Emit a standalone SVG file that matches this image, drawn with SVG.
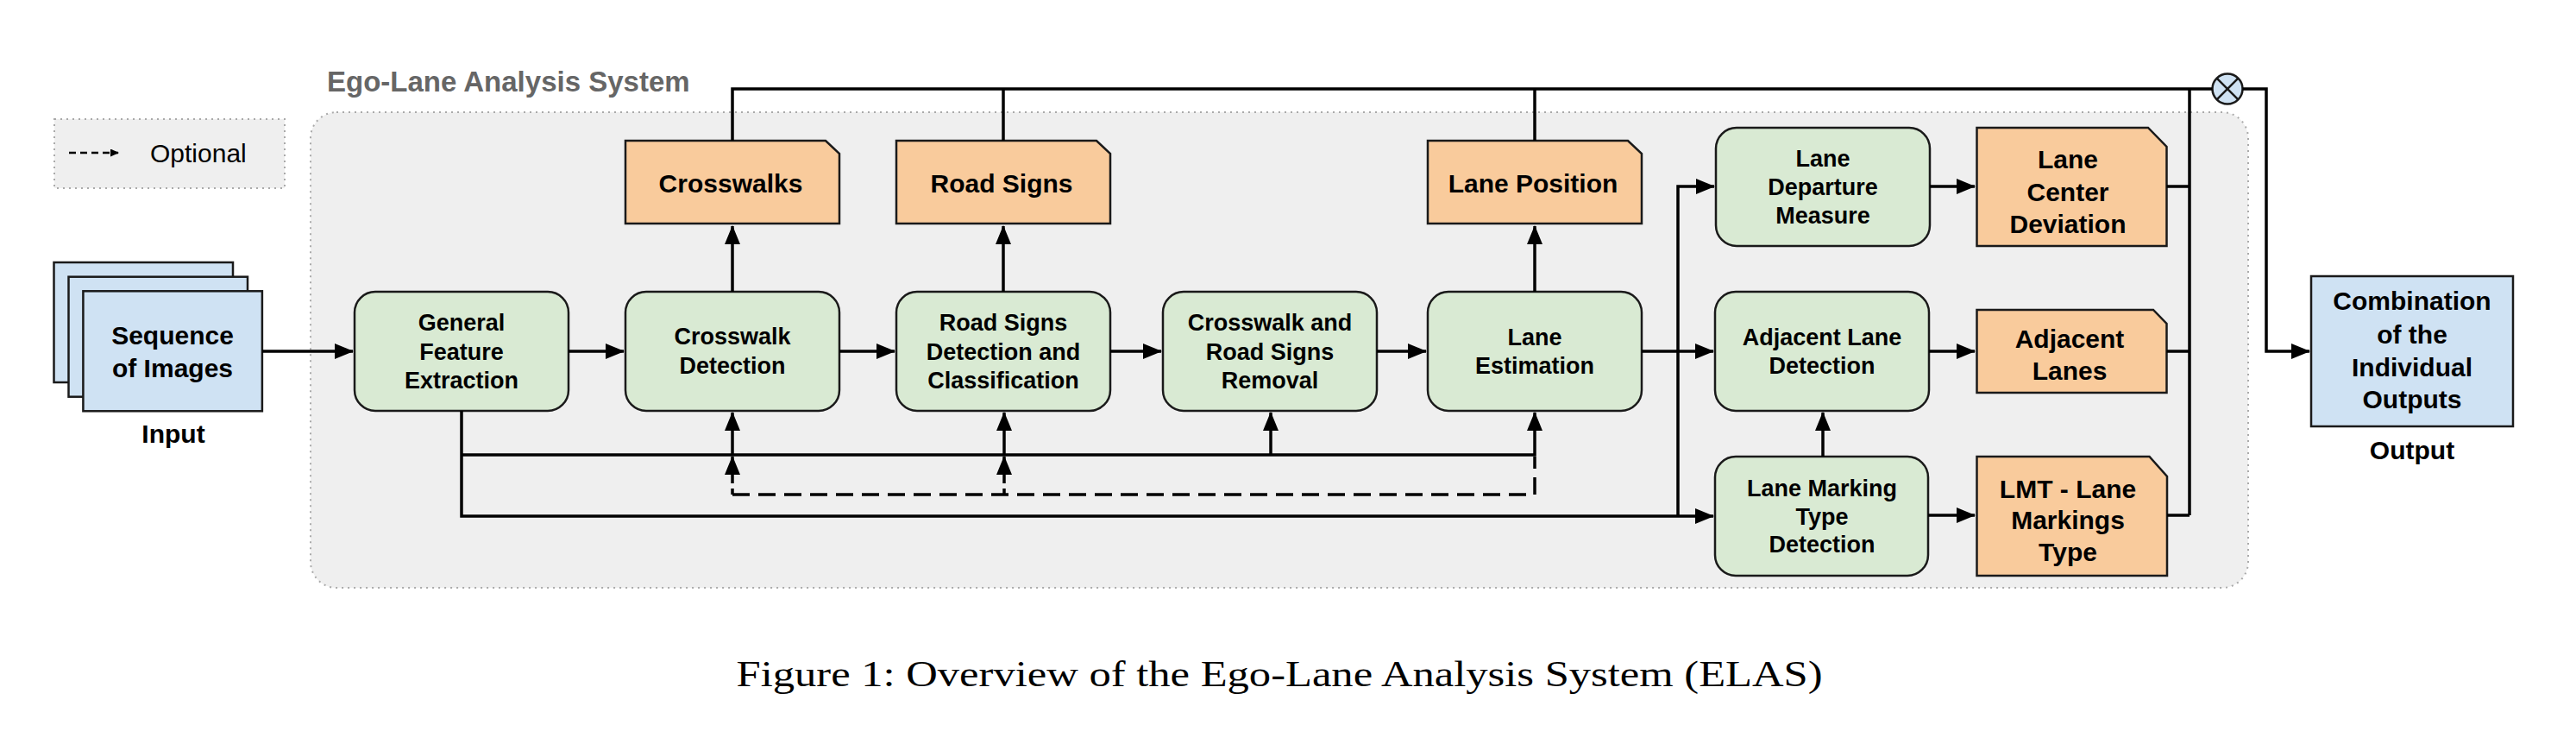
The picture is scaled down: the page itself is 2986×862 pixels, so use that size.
<svg xmlns="http://www.w3.org/2000/svg" width="2986" height="862" viewBox="0 0 2986 862">
<defs>
<style>
.lbl{font-family:"Liberation Sans",Arial,sans-serif;font-weight:bold;font-size:27px;fill:#000;text-anchor:middle}
.dl{font-family:"Liberation Sans",Arial,sans-serif;font-weight:bold;font-size:30px;fill:#000;text-anchor:middle}
.proc{fill:#d9ead3;stroke:#1a1a1a;stroke-width:2.5}
.doc{fill:#f9cb9c;stroke:#1a1a1a;stroke-width:2.5}
.io{fill:#cfe2f3;stroke:#1a1a1a;stroke-width:2.5}
.ln{fill:none;stroke:#000;stroke-width:3.5}
.arr{marker-end:url(#ah)}
.dash{stroke-dasharray:20 10}
</style>
<marker id="ah" markerUnits="userSpaceOnUse" markerWidth="22" markerHeight="18" refX="21" refY="9" orient="auto">
<path d="M0,0 L22,9 L0,18 z" fill="#000"/>
</marker>
<marker id="ahs" markerUnits="userSpaceOnUse" markerWidth="10" markerHeight="9" refX="9" refY="4.5" orient="auto">
<path d="M0,0 L10,4.5 L0,9 z" fill="#000"/>
</marker>
</defs>
<rect width="2986" height="862" fill="#fff"/>

<g id="system-group">
<rect x="360" y="130" width="2246" height="551" rx="30" fill="#efefef" stroke="#aaaaaa" stroke-width="2" stroke-dasharray="2 5"/>
<text x="379" y="106" font-family="Liberation Sans, Arial, sans-serif" font-weight="bold" font-size="33" fill="#666666">Ego-Lane Analysis System</text>
</g>

<g id="legend">
<rect x="63" y="138" width="267" height="80" fill="#efefef" stroke="#aaaaaa" stroke-width="2" stroke-dasharray="2 5"/>
<line x1="80" y1="177" x2="137" y2="177" stroke="#000" stroke-width="2.5" stroke-dasharray="8 5" marker-end="url(#ahs)"/>
<text x="174" y="188" font-family="Liberation Sans, Arial, sans-serif" font-size="30" fill="#000">Optional</text>
</g>

<g id="input">
<rect class="io" x="62.5" y="304" width="207.5" height="139"/>
<rect class="io" x="79.5" y="320.7" width="207.5" height="139"/>
<rect class="io" x="96.4" y="337.3" width="207.5" height="139"/>
<text class="dl" x="200" y="399">Sequence</text>
<text class="dl" x="200" y="437">of Images</text>
<text class="dl" x="201" y="513">Input</text>
</g>

<g id="gfe">
<rect class="proc" x="411" y="338" width="248" height="138" rx="24"/>
<text class="lbl" x="535" y="383">General</text>
<text class="lbl" x="535" y="416.7">Feature</text>
<text class="lbl" x="535" y="450">Extraction</text>
</g>

<g id="crosswalk-detection">
<rect class="proc" x="725" y="338" width="248" height="138" rx="24"/>
<text class="lbl" x="849" y="399.3">Crosswalk</text>
<text class="lbl" x="849" y="433.3">Detection</text>
</g>

<g id="road-signs-detection">
<rect class="proc" x="1039" y="338" width="248" height="138" rx="24"/>
<text class="lbl" x="1163" y="383">Road Signs</text>
<text class="lbl" x="1163" y="416.7">Detection and</text>
<text class="lbl" x="1163" y="450">Classification</text>
</g>

<g id="removal">
<rect class="proc" x="1348" y="338" width="248" height="138" rx="24"/>
<text class="lbl" x="1472" y="383">Crosswalk and</text>
<text class="lbl" x="1472" y="416.7">Road Signs</text>
<text class="lbl" x="1472" y="450">Removal</text>
</g>

<g id="lane-estimation">
<rect class="proc" x="1655" y="338" width="248" height="138" rx="24"/>
<text class="lbl" x="1779" y="400">Lane</text>
<text class="lbl" x="1779" y="433">Estimation</text>
</g>

<g id="lane-departure">
<rect class="proc" x="1989" y="148" width="248" height="137" rx="24"/>
<text class="lbl" x="2113" y="192.7">Lane</text>
<text class="lbl" x="2113" y="225.7">Departure</text>
<text class="lbl" x="2113" y="259.3">Measure</text>
</g>

<g id="adjacent-detection">
<rect class="proc" x="1988" y="338" width="248" height="138" rx="24"/>
<text class="lbl" x="2112" y="400">Adjacent Lane</text>
<text class="lbl" x="2112" y="433">Detection</text>
</g>

<g id="lmt-detection">
<rect class="proc" x="1988" y="529" width="247" height="138" rx="24"/>
<text class="lbl" x="2112" y="575">Lane Marking</text>
<text class="lbl" x="2112" y="608.3">Type</text>
<text class="lbl" x="2112" y="640">Detection</text>
</g>

<g id="crosswalks">
<path class="doc" d="M725,163 H957 L973,178 V259 H725 Z"/>
<text class="dl" x="847" y="223">Crosswalks</text>
</g>

<g id="road-signs">
<path class="doc" d="M1039,163 H1271 L1287,178 V259 H1039 Z"/>
<text class="dl" x="1161" y="223">Road Signs</text>
</g>

<g id="lane-position">
<path class="doc" d="M1655,163 H1887 L1903,178 V259 H1655 Z"/>
<text class="dl" x="1777" y="223">Lane Position</text>
</g>

<g id="lane-center-deviation">
<path class="doc" d="M2291.5,148 H2490 L2511.5,170 V285 H2291.5 Z"/>
<text class="dl" x="2397" y="195">Lane</text>
<text class="dl" x="2397" y="232.7">Center</text>
<text class="dl" x="2397" y="270">Deviation</text>
</g>

<g id="adjacent-lanes">
<path class="doc" d="M2291.5,359 H2496 L2511.5,375 V455 H2291.5 Z"/>
<text class="dl" x="2399" y="402.7">Adjacent</text>
<text class="dl" x="2399" y="440">Lanes</text>
</g>

<g id="lmt">
<path class="doc" d="M2291.5,529 H2491.5 L2512,552 V667 H2291.5 Z"/>
<text class="dl" x="2397" y="576.7">LMT - Lane</text>
<text class="dl" x="2397" y="613.3">Markings</text>
<text class="dl" x="2397" y="650">Type</text>
</g>

<g id="combiner">
<circle cx="2582" cy="103" r="17.5" fill="#cfe2f3" stroke="#1a1a1a" stroke-width="2.5"/>
<path d="M2569.6,90.6 L2594.4,115.4 M2594.4,90.6 L2569.6,115.4" stroke="#1a1a1a" stroke-width="2.5"/>
</g>

<g id="output">
<rect class="io" x="2679" y="320" width="234" height="174"/>
<text class="dl" x="2796" y="359.3">Combination</text>
<text class="dl" x="2796" y="397.7">of the</text>
<text class="dl" x="2796" y="436">Individual</text>
<text class="dl" x="2796" y="472.7">Outputs</text>
<text class="dl" x="2796" y="532">Output</text>
</g>

<g id="connectors">
<path class="ln arr" d="M304,407 H409"/>
<path class="ln arr" d="M659,407 H723"/>
<path class="ln arr" d="M973,407 H1037"/>
<path class="ln arr" d="M1287,407 H1346"/>
<path class="ln arr" d="M1596,407 H1653"/>
<path class="ln arr" d="M1903,407 H1986"/>
<path class="ln arr" d="M849,338 V262"/>
<path class="ln arr" d="M1163,338 V262"/>
<path class="ln arr" d="M1779,338 V262"/>
<path class="ln" d="M849,163 V103 H2564.5"/>
<path class="ln" d="M1163,163 V103"/>
<path class="ln" d="M1779,163 V103"/>
<path class="ln" d="M2511.5,216 H2538 M2511.5,407 H2538 M2512,597 H2538 M2538,597 V103"/>
<path class="ln arr" d="M2599.5,103 H2627 V407 H2677"/>
<path class="ln arr" d="M1945,597 V216 H1987"/>
<path class="ln arr" d="M2237,216 H2289"/>
<path class="ln arr" d="M2236,407 H2289"/>
<path class="ln arr" d="M2235,597 H2289"/>
<path class="ln arr" d="M2113,529 V478"/>
<path class="ln arr" d="M535,476 V598 H1986"/>
<path class="ln arr" d="M535,527 H1779 V478"/>
<path class="ln arr" d="M849,527 V478"/>
<path class="ln arr" d="M1164,527 V478"/>
<path class="ln arr" d="M1473,527 V478"/>
<path class="ln dash" d="M849,573 H1779 V529"/>
<path class="ln arr" d="M849,560 V529"/>
<path class="ln arr" d="M1164,560 V529"/>
<path class="ln" d="M849,573 V566 M1164,573 V566"/>
</g>

<text x="1483" y="795" text-anchor="middle" font-family="Liberation Serif, Times New Roman, serif" font-size="43" textLength="1259" lengthAdjust="spacingAndGlyphs" fill="#000">Figure 1: Overview of the Ego-Lane Analysis System (ELAS)</text>
</svg>
